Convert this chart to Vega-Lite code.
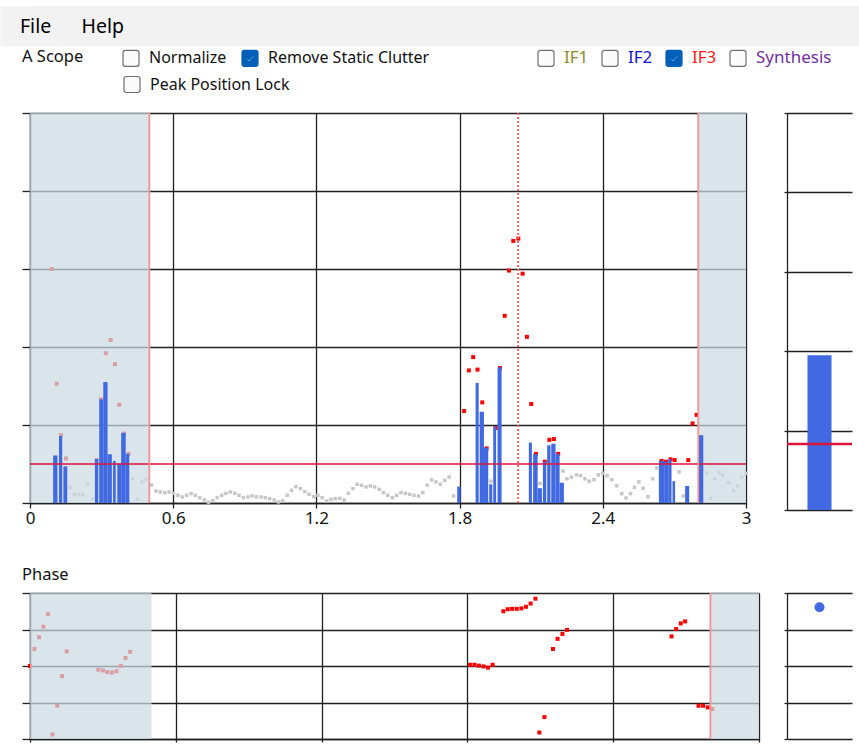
{
 "$schema": "https://vega.github.io/schema/vega-lite/v6.json",
 "padding": {"top": 6, "left": 0, "right": 0, "bottom": 0},
 "background": "#ffffff",
 "config": {
  "view": {"stroke": null},
  "font": "Noto Sans",
  "axis": {"gridColor": "#202020", "gridWidth": 1.3, "domainColor": "#202020", "domainWidth": 1.3, "tickColor": "#202020", "tickWidth": 1.3, "labelFont": "Noto Sans", "labelFontSize": 17, "labelColor": "#111111"},
  "legend": {"padding": 0}
 },
 "datasets": {
  "menu": [{"item": "File"}, {"item": "Help"}],
  "options_a": [{"option": "Normalize"}, {"option": "Remove Static Clutter"}],
  "options_b": [{"option": "Peak Position Lock"}],
  "channels": [{"series": "IF1"}, {"series": "IF2"}, {"series": "IF3"}, {"series": "Synthesis"}],
  "shade": [{"x": 0, "x2": 0.5}, {"x": 2.8, "x2": 3}],
  "gates": [{"x": 0.5}, {"x": 2.8}],
  "phase_gate": [{"x": 2.8}],
  "peak": [{"x": 2.045}],
  "threshold": [{"amp": 0.5}],
  "side": [{"ch": "IF3", "amp": 1.95}],
  "side_threshold": [{"amp": 0.83}],
  "phase_side": [{"ch": "IF3", "phase": 145}],
  "bars": [
   {"x": 0.097, "x2": 0.115, "amp": 0.61}, {"x": 0.1215, "x2": 0.135, "amp": 0.86}, {"x": 0.14, "x2": 0.156, "amp": 0.47},
   {"x": 0.272, "x2": 0.286, "amp": 0.565}, {"x": 0.29, "x2": 0.307, "amp": 1.33}, {"x": 0.307, "x2": 0.325, "amp": 1.55},
   {"x": 0.325, "x2": 0.343, "amp": 0.625}, {"x": 0.348, "x2": 0.359, "amp": 0.54}, {"x": 0.366, "x2": 0.382, "amp": 0.505},
   {"x": 0.382, "x2": 0.401, "amp": 0.9}, {"x": 0.401, "x2": 0.416, "amp": 0.63},
   {"x": 1.79, "x2": 1.804, "amp": 0.21}, {"x": 1.867, "x2": 1.88, "amp": 1.54}, {"x": 1.884, "x2": 1.902, "amp": 1.17},
   {"x": 1.902, "x2": 1.92, "amp": 0.71}, {"x": 1.924, "x2": 1.937, "amp": 0.24}, {"x": 1.941, "x2": 1.953, "amp": 0.98},
   {"x": 1.959, "x2": 1.976, "amp": 1.74}, {"x": 2.09, "x2": 2.103, "amp": 0.775}, {"x": 2.108, "x2": 2.127, "amp": 0.63},
   {"x": 2.127, "x2": 2.145, "amp": 0.19}, {"x": 2.149, "x2": 2.163, "amp": 0.53}, {"x": 2.167, "x2": 2.181, "amp": 0.74},
   {"x": 2.184, "x2": 2.202, "amp": 0.76}, {"x": 2.202, "x2": 2.219, "amp": 0.63}, {"x": 2.219, "x2": 2.237, "amp": 0.26},
   {"x": 2.635, "x2": 2.657, "amp": 0.54}, {"x": 2.657, "x2": 2.674, "amp": 0.53}, {"x": 2.674, "x2": 2.688, "amp": 0.56},
   {"x": 2.692, "x2": 2.703, "amp": 0.28}, {"x": 2.745, "x2": 2.762, "amp": 0.22}, {"x": 2.803, "x2": 2.821, "amp": 0.87}
  ],
  "amp_pts": [
   {"x": 0.091, "amp": 3.0}, {"x": 0.112, "amp": 1.53}, {"x": 0.13, "amp": 0.87}, {"x": 0.151, "amp": 0.57},
   {"x": 0.279, "amp": 0.55}, {"x": 0.297, "amp": 1.33}, {"x": 0.318, "amp": 1.92}, {"x": 0.338, "amp": 2.09},
   {"x": 0.356, "amp": 1.78}, {"x": 0.374, "amp": 1.26}, {"x": 0.394, "amp": 0.89}, {"x": 0.413, "amp": 0.63},
   {"x": 1.819, "amp": 1.18}, {"x": 1.839, "amp": 1.7}, {"x": 1.857, "amp": 1.87}, {"x": 1.875, "amp": 1.71},
   {"x": 1.895, "amp": 1.29}, {"x": 1.913, "amp": 0.7}, {"x": 1.951, "amp": 0.96}, {"x": 1.969, "amp": 1.73},
   {"x": 1.989, "amp": 2.4}, {"x": 2.007, "amp": 2.98}, {"x": 2.025, "amp": 3.36}, {"x": 2.046, "amp": 3.39},
   {"x": 2.064, "amp": 2.94}, {"x": 2.082, "amp": 2.13}, {"x": 2.1, "amp": 1.27}, {"x": 2.12, "amp": 0.63},
   {"x": 2.157, "amp": 0.53}, {"x": 2.176, "amp": 0.81}, {"x": 2.195, "amp": 0.82}, {"x": 2.213, "amp": 0.63},
   {"x": 2.646, "amp": 0.54}, {"x": 2.665, "amp": 0.53}, {"x": 2.684, "amp": 0.56}, {"x": 2.701, "amp": 0.55},
   {"x": 2.758, "amp": 0.55}, {"x": 2.776, "amp": 1.02}, {"x": 2.793, "amp": 1.13}
  ],
  "clutter": [
   {"x": 0.168, "amp": 0.2}, {"x": 0.186, "amp": 0.11}, {"x": 0.204, "amp": 0.11}, {"x": 0.222, "amp": 0.11}, {"x": 0.242, "amp": 0.25},
   {"x": 0.263, "amp": 0.05}, {"x": 0.43, "amp": 0.31}, {"x": 0.45, "amp": 0.05}, {"x": 0.468, "amp": 0.27}, {"x": 0.486, "amp": 0.3},
   {"x": 0.51, "amp": 0.23}, {"x": 0.528, "amp": 0.154}, {"x": 0.546, "amp": 0.141}, {"x": 0.565, "amp": 0.133}, {"x": 0.583, "amp": 0.141},
   {"x": 0.601, "amp": 0.124}, {"x": 0.62, "amp": 0.099}, {"x": 0.638, "amp": 0.077}, {"x": 0.656, "amp": 0.099}, {"x": 0.675, "amp": 0.12},
   {"x": 0.693, "amp": 0.099}, {"x": 0.711, "amp": 0.069}, {"x": 0.73, "amp": 0.039}, {"x": 0.748, "amp": 0.01}, {"x": 0.766, "amp": 0.03},
   {"x": 0.784, "amp": 0.069}, {"x": 0.803, "amp": 0.099}, {"x": 0.821, "amp": 0.124}, {"x": 0.839, "amp": 0.141}, {"x": 0.858, "amp": 0.124},
   {"x": 0.876, "amp": 0.099}, {"x": 0.894, "amp": 0.069}, {"x": 0.913, "amp": 0.077}, {"x": 0.931, "amp": 0.09}, {"x": 0.949, "amp": 0.081},
   {"x": 0.968, "amp": 0.077}, {"x": 0.986, "amp": 0.069}, {"x": 1.004, "amp": 0.056}, {"x": 1.023, "amp": 0.039}, {"x": 1.041, "amp": 0.013},
   {"x": 1.059, "amp": 0.026}, {"x": 1.078, "amp": 0.099}, {"x": 1.096, "amp": 0.163}, {"x": 1.114, "amp": 0.21}, {"x": 1.133, "amp": 0.184},
   {"x": 1.151, "amp": 0.146}, {"x": 1.169, "amp": 0.111}, {"x": 1.188, "amp": 0.081}, {"x": 1.206, "amp": 0.099}, {"x": 1.224, "amp": 0.069},
   {"x": 1.243, "amp": 0.026}, {"x": 1.261, "amp": 0.047}, {"x": 1.279, "amp": 0.056}, {"x": 1.298, "amp": 0.06}, {"x": 1.316, "amp": 0.039},
   {"x": 1.334, "amp": 0.124}, {"x": 1.353, "amp": 0.184}, {"x": 1.371, "amp": 0.24}, {"x": 1.389, "amp": 0.227}, {"x": 1.408, "amp": 0.206},
   {"x": 1.426, "amp": 0.218}, {"x": 1.444, "amp": 0.206}, {"x": 1.463, "amp": 0.176}, {"x": 1.481, "amp": 0.133}, {"x": 1.499, "amp": 0.099},
   {"x": 1.518, "amp": 0.069}, {"x": 1.536, "amp": 0.099}, {"x": 1.554, "amp": 0.133}, {"x": 1.573, "amp": 0.124}, {"x": 1.591, "amp": 0.111},
   {"x": 1.609, "amp": 0.099}, {"x": 1.628, "amp": 0.09}, {"x": 1.646, "amp": 0.133}, {"x": 1.664, "amp": 0.23}, {"x": 1.683, "amp": 0.296},
   {"x": 1.701, "amp": 0.27}, {"x": 1.719, "amp": 0.24}, {"x": 1.738, "amp": 0.29}, {"x": 1.756, "amp": 0.334}, {"x": 1.775, "amp": 0.09},
   {"x": 1.931, "amp": 0.28}, {"x": 2.137, "amp": 0.25},
   {"x": 2.233, "amp": 0.41}, {"x": 2.25, "amp": 0.31}, {"x": 2.269, "amp": 0.33}, {"x": 2.29, "amp": 0.36}, {"x": 2.307, "amp": 0.35},
   {"x": 2.325, "amp": 0.31}, {"x": 2.343, "amp": 0.28}, {"x": 2.363, "amp": 0.3}, {"x": 2.381, "amp": 0.36}, {"x": 2.399, "amp": 0.38},
   {"x": 2.418, "amp": 0.35}, {"x": 2.438, "amp": 0.3}, {"x": 2.458, "amp": 0.22}, {"x": 2.479, "amp": 0.12}, {"x": 2.497, "amp": 0.064},
   {"x": 2.516, "amp": 0.12}, {"x": 2.533, "amp": 0.2}, {"x": 2.551, "amp": 0.27}, {"x": 2.569, "amp": 0.19}, {"x": 2.589, "amp": 0.08},
   {"x": 2.609, "amp": 0.31}, {"x": 2.626, "amp": 0.45}, {"x": 2.72, "amp": 0.4}, {"x": 2.737, "amp": 0.09},
   {"x": 2.835, "amp": 0.38}, {"x": 2.852, "amp": 0.06}, {"x": 2.87, "amp": 0.31}, {"x": 2.887, "amp": 0.39}, {"x": 2.902, "amp": 0.36},
   {"x": 2.926, "amp": 0.26}, {"x": 2.947, "amp": 0.16}, {"x": 2.965, "amp": 0.22}, {"x": 2.982, "amp": 0.33}, {"x": 3.0, "amp": 0.38}
  ],
  "phase_pts": [
   {"x": 0.0, "phase": 0}, {"x": 0.018, "phase": 42}, {"x": 0.037, "phase": 71}, {"x": 0.055, "phase": 97}, {"x": 0.074, "phase": 128},
   {"x": 0.093, "phase": -169}, {"x": 0.112, "phase": -98}, {"x": 0.132, "phase": -25}, {"x": 0.151, "phase": 36},
   {"x": 0.281, "phase": -9}, {"x": 0.3, "phase": -11}, {"x": 0.318, "phase": -15}, {"x": 0.337, "phase": -16}, {"x": 0.356, "phase": -13},
   {"x": 0.374, "phase": 0}, {"x": 0.393, "phase": 20}, {"x": 0.412, "phase": 35},
   {"x": 1.811, "phase": 3}, {"x": 1.829, "phase": 3}, {"x": 1.847, "phase": 1}, {"x": 1.866, "phase": -1}, {"x": 1.885, "phase": -4}, {"x": 1.904, "phase": 3},
   {"x": 1.948, "phase": 135}, {"x": 1.966, "phase": 140}, {"x": 1.984, "phase": 141}, {"x": 2.003, "phase": 141}, {"x": 2.022, "phase": 142},
   {"x": 2.041, "phase": 146}, {"x": 2.06, "phase": 154}, {"x": 2.08, "phase": 166},
   {"x": 2.096, "phase": -164}, {"x": 2.117, "phase": -126},
   {"x": 2.152, "phase": 42}, {"x": 2.171, "phase": 67}, {"x": 2.191, "phase": 79}, {"x": 2.21, "phase": 89},
   {"x": 2.64, "phase": 73}, {"x": 2.659, "phase": 91}, {"x": 2.678, "phase": 105}, {"x": 2.696, "phase": 110},
   {"x": 2.751, "phase": -98}, {"x": 2.77, "phase": -98}, {"x": 2.789, "phase": -102}, {"x": 2.808, "phase": -106}
  ]
 },
 "bounds": "full",
 "spacing": 3,
 "vconcat": [
  {
   "width": 829, "height": 40,
   "view": {"fill": "#f2f2f2", "stroke": null},
   "title": {"text": "File\u00a0\u00a0\u00a0\u00a0\u00a0\u00a0Help", "anchor": "start", "frame": "group", "dx": -10, "offset": -40, "baseline": "middle", "fontSize": 19.5, "fontWeight": "normal", "font": "Noto Sans", "color": "#000000", "zindex": 2},
   "data": {"name": "menu"},
   "mark": {"type": "rect", "color": "#f2f2f2"},
   "encoding": {
    "y": {"field": "item", "type": "nominal", "scale": {"padding": 0},
          "axis": {"labels": false, "ticks": false, "grid": false, "title": null, "domain": true, "domainColor": "#f2f2f2", "domainWidth": 60, "zindex": 0}}
   }
  },
  {
   "bounds": "full",
   "spacing": 40,
   "vconcat": [
    {
     "bounds": "flush",
     "spacing": 41,
     "hconcat": [
      {
       "width": 716, "height": 390,
       "resolve": {"scale": {"shape": "independent", "fill": "independent", "stroke": "independent"}},
       "layer": [
        {
         "data": {"name": "clutter"},
         "mark": {"type": "point", "shape": "square", "filled": true, "size": 12, "color": "#c6c6c6", "opacity": 1},
         "encoding": {
          "x": {"field": "x", "type": "quantitative", "scale": {"domain": [0, 3], "nice": false, "zero": false},
                "axis": {"values": [0, 0.6, 1.2, 1.8, 2.4, 3], "format": "~g", "grid": true, "labelFlush": false, "tickSize": 5, "labelPadding": 2, "title": null}},
          "y": {"field": "amp", "type": "quantitative", "scale": {"domain": [0, 5], "nice": false, "zero": false},
                "axis": {"values": [0, 1, 2, 3, 4, 5], "grid": true, "labels": false, "tickSize": 8, "title": ".", "titleX": -30, "titleY": 0, "titleAngle": 0, "titleAlign": "left", "titleBaseline": "top", "titleFontSize": 1, "titleColor": "#ffffff"}}
         }
        },
        {
         "data": {"name": "amp_pts"},
         "mark": {"type": "point", "shape": "square", "filled": true, "size": 16, "color": "#ff0000", "opacity": 1},
         "encoding": {
          "x": {"field": "x", "type": "quantitative"},
          "y": {"field": "amp", "type": "quantitative"}
         }
        },
        {
         "data": {"name": "shade"},
         "mark": {"type": "rect", "color": "#ccdbe3", "opacity": 0.72},
         "encoding": {"x": {"field": "x", "type": "quantitative"}, "x2": {"field": "x2"}}
        },
        {
         "data": {"name": "bars"},
         "mark": {"type": "rect", "color": "#4169e1"},
         "encoding": {"x": {"field": "x", "type": "quantitative"}, "x2": {"field": "x2"}, "y": {"field": "amp", "type": "quantitative"}, "y2": {"datum": 0}}
        },
        {
         "data": {"name": "threshold"},
         "mark": {"type": "rule", "color": "#dc143c", "strokeWidth": 1.3},
         "encoding": {"y": {"field": "amp", "type": "quantitative"}}
        },
        {
         "data": {"name": "gates"},
         "mark": {"type": "rule", "color": "#f29494", "strokeWidth": 1.8},
         "encoding": {"x": {"field": "x", "type": "quantitative"}}
        },
        {
         "data": {"name": "peak"},
         "mark": {"type": "rule", "color": "#ff5c5c", "strokeWidth": 1.8, "strokeDash": [2, 2]},
         "encoding": {"x": {"field": "x", "type": "quantitative"}}
        },
        {
         "data": {"name": "options_a"},
         "transform": [{"filter": "false"}],
         "mark": {"type": "point", "filled": true, "opacity": 1},
         "encoding": {
          "shape": {"field": "option", "type": "nominal",
           "scale": {"domain": ["Normalize", "Remove Static Clutter"],
                     "range": ["M-0.7,-1L0.7,-1Q1,-1,1,-0.7L1,0.7Q1,1,0.7,1L-0.7,1Q-1,1,-1,0.7L-1,-0.7Q-1,-1,-0.7,-1Z",
                               "M-0.7,-1L0.7,-1Q1,-1,1,-0.7L1,0.7Q1,1,0.7,1L-0.7,1Q-1,1,-1,0.7L-1,-0.7Q-1,-1,-0.7,-1ZM-0.4,-0.07L-0.53,0.06L-0.12,0.47L0.55,-0.22L0.42,-0.35L-0.12,0.21Z"]},
           "legend": {"orient": "none", "legendX": -8, "legendY": -64, "direction": "horizontal", "columns": 2, "columnPadding": 12,
            "title": "A Scope", "titleOrient": "left", "titleAnchor": "start", "titlePadding": 38, "titleFont": "Noto Sans", "titleFontSize": 16.5,
            "titleFontWeight": "normal", "titleColor": "#111111", "titleBaseline": "top",
            "symbolSize": 256, "symbolStrokeWidth": 1.2, "symbolOpacity": 1, "labelOffset": 9, "labelFont": "Noto Sans", "labelFontSize": 16,
            "labelLimit": 300, "labelColor": "#111111", "padding": 0}},
          "fill": {"field": "option", "type": "nominal",
           "scale": {"domain": ["Normalize", "Remove Static Clutter"], "range": ["#fbfbfb", "#005fb8"]},
           "legend": {"orient": "none", "legendX": -8, "legendY": -64, "direction": "horizontal", "columns": 2, "columnPadding": 12,
            "title": "A Scope", "titleOrient": "left", "titleAnchor": "start", "titlePadding": 38, "titleFont": "Noto Sans", "titleFontSize": 16.5,
            "titleFontWeight": "normal", "titleColor": "#111111", "titleBaseline": "top",
            "symbolSize": 256, "symbolStrokeWidth": 1.2, "symbolOpacity": 1, "labelOffset": 9, "labelFont": "Noto Sans", "labelFontSize": 16,
            "labelLimit": 300, "labelColor": "#111111", "padding": 0}},
          "stroke": {"field": "option", "type": "nominal",
           "scale": {"domain": ["Normalize", "Remove Static Clutter"], "range": ["#707070", "#005fb8"]},
           "legend": {"orient": "none", "legendX": -8, "legendY": -64, "direction": "horizontal", "columns": 2, "columnPadding": 12,
            "title": "A Scope", "titleOrient": "left", "titleAnchor": "start", "titlePadding": 38, "titleFont": "Noto Sans", "titleFontSize": 16.5,
            "titleFontWeight": "normal", "titleColor": "#111111", "titleBaseline": "top",
            "symbolSize": 256, "symbolStrokeWidth": 1.2, "symbolOpacity": 1, "labelOffset": 9, "labelFont": "Noto Sans", "labelFontSize": 16,
            "labelLimit": 300, "labelColor": "#111111", "padding": 0}}
         }
        },
        {
         "data": {"name": "options_b"},
         "transform": [{"filter": "false"}],
         "mark": {"type": "point", "filled": true, "opacity": 1},
         "encoding": {
          "shape": {"field": "option", "type": "nominal",
           "scale": {"domain": ["Peak Position Lock"], "range": ["M-0.7,-1L0.7,-1Q1,-1,1,-0.7L1,0.7Q1,1,0.7,1L-0.7,1Q-1,1,-1,0.7L-1,-0.7Q-1,-1,-0.7,-1Z"]},
           "legend": {"orient": "none", "legendX": 93, "legendY": -37.5, "direction": "horizontal", "title": null,
            "symbolSize": 256, "symbolStrokeWidth": 1.2, "symbolOpacity": 1, "labelOffset": 9, "labelFont": "Noto Sans", "labelFontSize": 16,
            "labelLimit": 300, "labelColor": "#111111", "padding": 0}},
          "fill": {"field": "option", "type": "nominal",
           "scale": {"domain": ["Peak Position Lock"], "range": ["#fbfbfb"]},
           "legend": {"orient": "none", "legendX": 93, "legendY": -37.5, "direction": "horizontal", "title": null,
            "symbolSize": 256, "symbolStrokeWidth": 1.2, "symbolOpacity": 1, "labelOffset": 9, "labelFont": "Noto Sans", "labelFontSize": 16,
            "labelLimit": 300, "labelColor": "#111111", "padding": 0}},
          "stroke": {"field": "option", "type": "nominal",
           "scale": {"domain": ["Peak Position Lock"], "range": ["#707070"]},
           "legend": {"orient": "none", "legendX": 93, "legendY": -37.5, "direction": "horizontal", "title": null,
            "symbolSize": 256, "symbolStrokeWidth": 1.2, "symbolOpacity": 1, "labelOffset": 9, "labelFont": "Noto Sans", "labelFontSize": 16,
            "labelLimit": 300, "labelColor": "#111111", "padding": 0}}
         }
        },
        {
         "data": {"name": "channels"},
         "transform": [{"filter": "false"}],
         "mark": {"type": "point", "filled": true, "opacity": 1},
         "encoding": {
          "shape": {"field": "series", "type": "nominal",
           "scale": {"domain": ["IF1", "IF2", "IF3", "Synthesis"],
                     "range": ["M-0.7,-1L0.7,-1Q1,-1,1,-0.7L1,0.7Q1,1,0.7,1L-0.7,1Q-1,1,-1,0.7L-1,-0.7Q-1,-1,-0.7,-1Z",
                               "M-0.7,-1L0.7,-1Q1,-1,1,-0.7L1,0.7Q1,1,0.7,1L-0.7,1Q-1,1,-1,0.7L-1,-0.7Q-1,-1,-0.7,-1Z",
                               "M-0.7,-1L0.7,-1Q1,-1,1,-0.7L1,0.7Q1,1,0.7,1L-0.7,1Q-1,1,-1,0.7L-1,-0.7Q-1,-1,-0.7,-1ZM-0.4,-0.07L-0.53,0.06L-0.12,0.47L0.55,-0.22L0.42,-0.35L-0.12,0.21Z",
                               "M-0.7,-1L0.7,-1Q1,-1,1,-0.7L1,0.7Q1,1,0.7,1L-0.7,1Q-1,1,-1,0.7L-1,-0.7Q-1,-1,-0.7,-1Z"]},
           "legend": {"orient": "none", "legendX": 507, "legendY": -64, "direction": "horizontal", "columns": 4, "columnPadding": 10, "title": null,
            "symbolSize": 256, "symbolStrokeWidth": 1.2, "symbolOpacity": 1, "labelOffset": 9, "labelFont": "Noto Sans", "labelFontSize": 17,
            "labelLimit": 300, "padding": 0,
            "labelColor": {"expr": "datum.label === 'IF1' ? '#8a8a2a' : datum.label === 'IF2' ? '#1414d2' : datum.label === 'IF3' ? '#ff1a1a' : '#7030a0'"}}},
          "fill": {"field": "series", "type": "nominal",
           "scale": {"domain": ["IF1", "IF2", "IF3", "Synthesis"], "range": ["#fbfbfb", "#fbfbfb", "#005fb8", "#fbfbfb"]},
           "legend": {"orient": "none", "legendX": 507, "legendY": -64, "direction": "horizontal", "columns": 4, "columnPadding": 10, "title": null,
            "symbolSize": 256, "symbolStrokeWidth": 1.2, "symbolOpacity": 1, "labelOffset": 9, "labelFont": "Noto Sans", "labelFontSize": 17,
            "labelLimit": 300, "padding": 0,
            "labelColor": {"expr": "datum.label === 'IF1' ? '#8a8a2a' : datum.label === 'IF2' ? '#1414d2' : datum.label === 'IF3' ? '#ff1a1a' : '#7030a0'"}}},
          "stroke": {"field": "series", "type": "nominal",
           "scale": {"domain": ["IF1", "IF2", "IF3", "Synthesis"], "range": ["#707070", "#707070", "#005fb8", "#707070"]},
           "legend": {"orient": "none", "legendX": 507, "legendY": -64, "direction": "horizontal", "columns": 4, "columnPadding": 10, "title": null,
            "symbolSize": 256, "symbolStrokeWidth": 1.2, "symbolOpacity": 1, "labelOffset": 9, "labelFont": "Noto Sans", "labelFontSize": 17,
            "labelLimit": 300, "padding": 0,
            "labelColor": {"expr": "datum.label === 'IF1' ? '#8a8a2a' : datum.label === 'IF2' ? '#1414d2' : datum.label === 'IF3' ? '#ff1a1a' : '#7030a0'"}}}
         }
        }
       ]
      },
      {
       "width": 65, "height": 397,
       "layer": [
        {
         "data": {"name": "side"},
         "mark": {"type": "bar", "color": "#4169e1"},
         "encoding": {
          "x": {"field": "ch", "type": "nominal", "scale": {"padding": 0.46}, "axis": null},
          "y": {"field": "amp", "type": "quantitative", "scale": {"domain": [0, 5], "nice": false, "zero": false},
                "axis": {"values": [0, 1, 2, 3, 4, 5], "grid": true, "labels": false, "tickSize": 3, "title": null}}
         }
        },
        {
         "data": {"name": "side_threshold"},
         "mark": {"type": "rule", "color": "#dc143c", "strokeWidth": 2.5},
         "encoding": {"y": {"field": "amp", "type": "quantitative"}}
        }
       ]
      }
     ]
    },
    {
     "bounds": "flush",
     "spacing": 28,
     "hconcat": [
      {
       "width": 729, "height": 146,
       "title": {"text": "Phase", "anchor": "start", "frame": "group", "dx": -8, "offset": 1, "baseline": "middle", "fontSize": 16.5, "fontWeight": "normal", "font": "Noto Sans", "color": "#111111"},
       "layer": [
        {
         "data": {"name": "phase_pts"},
         "mark": {"type": "point", "shape": "square", "filled": true, "size": 16, "color": "#ff0000", "opacity": 1},
         "encoding": {
          "x": {"field": "x", "type": "quantitative", "scale": {"domain": [0, 3], "nice": false, "zero": false},
                "axis": {"values": [0, 0.6, 1.2, 1.8, 2.4, 3], "grid": true, "labels": false, "tickSize": 3, "title": null}},
          "y": {"field": "phase", "type": "quantitative", "scale": {"domain": [-180, 180], "nice": false, "zero": false},
                "axis": {"values": [-180, -90, 0, 90, 180], "grid": true, "labels": false, "tickSize": 8, "title": null}}
         }
        },
        {
         "data": {"name": "shade"},
         "mark": {"type": "rect", "color": "#ccdbe3", "opacity": 0.72},
         "encoding": {"x": {"field": "x", "type": "quantitative"}, "x2": {"field": "x2"}}
        },
        {
         "data": {"name": "phase_gate"},
         "mark": {"type": "rule", "color": "#f29494", "strokeWidth": 1.8},
         "encoding": {"x": {"field": "x", "type": "quantitative"}}
        }
       ]
      },
      {
       "width": 65, "height": 146,
       "data": {"name": "phase_side"},
       "mark": {"type": "point", "shape": "circle", "filled": true, "size": 100, "color": "#4169e1", "opacity": 1},
       "encoding": {
        "x": {"field": "ch", "type": "nominal", "scale": {"padding": 0.46}, "axis": null},
        "y": {"field": "phase", "type": "quantitative", "scale": {"domain": [-180, 180], "nice": false, "zero": false},
              "axis": {"values": [-180, -90, 0, 90, 180], "grid": true, "labels": false, "tickSize": 3, "title": null}}
       }
      }
     ]
    }
   ]
  }
 ]
}
